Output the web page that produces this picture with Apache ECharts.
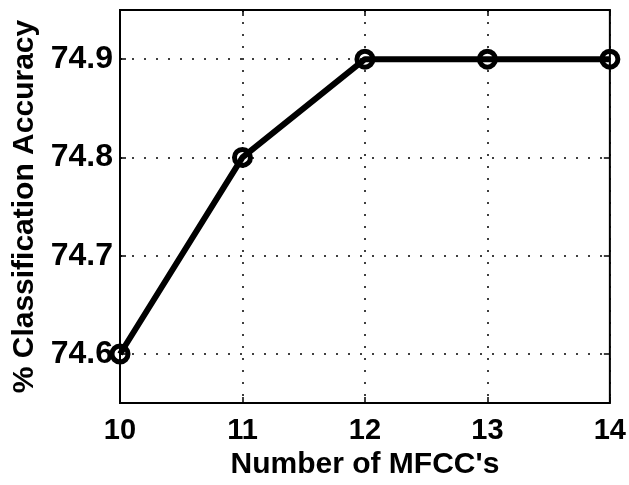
<!DOCTYPE html>
<html>
<head>
<meta charset="utf-8">
<script src="https://cdn.jsdelivr.net/npm/echarts@6/dist/echarts.min.js"></script>
<style>html,body{margin:0;padding:0;background:#fff}#c{width:629px;height:485px}</style>
</head>
<body>
<div id="c"></div>
<script>
const mfcc = [10, 11, 12, 13, 14];
const accuracy = [74.6, 74.8, 74.9, 74.9, 74.9];
const yTicks = [74.6, 74.7, 74.8, 74.9];
const xTitle = "Number of MFCC's";
const yTitle = "% Classification Accuracy";

const chart = echarts.init(document.getElementById('c'));
const font = 'Liberation Sans';
const tickStyle = {show: true, inside: true, length: 6, lineStyle: {color: '#000', width: 1.5}};
const dotted = {color: '#000', type: [2, 10], width: 1.5};
chart.setOption({
  animation: false,
  backgroundColor: '#fff',
  grid: {left: 120, right: 18, top: 10, bottom: 79, show: true, borderColor: '#000', borderWidth: 2, backgroundColor: 'transparent'},
  xAxis: [{
    type: 'value', min: 10, max: 14, interval: 1,
    name: xTitle, nameLocation: 'middle', nameGap: 41,
    nameTextStyle: {fontFamily: font, fontSize: 30, fontWeight: 'bold', color: '#000'},
    axisLine: {show: false},
    axisTick: tickStyle,
    axisLabel: {fontFamily: font, fontSize: 29, fontWeight: 'bold', color: '#000', margin: 13},
    splitLine: {show: true, lineStyle: dotted}
  }, {
    type: 'value', min: 10, max: 14, interval: 1, position: 'top',
    axisLine: {show: false}, axisTick: tickStyle, axisLabel: {show: false}, splitLine: {show: false}
  }],
  yAxis: [{
    type: 'value', min: 74.55, max: 74.95,
    name: yTitle, nameLocation: 'middle', nameGap: 78,
    nameTextStyle: {fontFamily: font, fontSize: 30, fontWeight: 'bold', color: '#000'},
    axisLine: {show: false},
    axisLabel: {
      fontFamily: font, fontSize: 32, fontWeight: 'bold', color: '#000', margin: 7,
      customValues: yTicks,
      formatter: v => v.toFixed(1)
    },
    axisTick: Object.assign({customValues: yTicks}, tickStyle),
    splitLine: {show: false}
  }, {
    type: 'value', min: 74.55, max: 74.95, position: 'right',
    axisLine: {show: false},
    axisLabel: {show: false, customValues: yTicks},
    axisTick: Object.assign({customValues: yTicks}, tickStyle),
    splitLine: {show: false}
  }],
  series: [{
    type: 'line',
    data: mfcc.map((x, i) => [x, accuracy[i]]),
    lineStyle: {color: '#000', width: 6},
    symbol: 'circle', symbolSize: 16,
    itemStyle: {color: 'none', borderColor: '#000', borderWidth: 5},
    z: 5
  }, {
    type: 'line',
    data: [],
    markLine: {
      silent: true, symbol: 'none', label: {show: false},
      lineStyle: dotted,
      data: yTicks.map(v => ({yAxis: v}))
    }
  }]
});
</script>
</body>
</html>
